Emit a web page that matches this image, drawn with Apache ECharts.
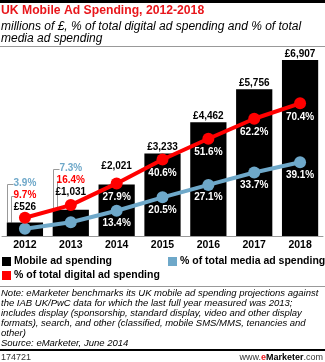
<!DOCTYPE html>
<html>
<head>
<meta charset="utf-8">
<script src="https://cdn.jsdelivr.net/npm/echarts@6/dist/echarts.min.js"></script>
<style>
html,body{margin:0;padding:0;background:#fff;}
#c{width:325px;height:362px;}
</style>
</head>
<body>
<div id="c"></div>
<script>
const years = ['2012', '2013', '2014', '2015', '2016', '2017', '2018'];
const mobileSpend = [526, 1031, 2021, 3233, 4462, 5756, 6907];
const pctDigital = [9.7, 16.4, 27.9, 40.6, 51.6, 62.2, 70.4];
const pctMedia = [3.9, 7.3, 13.4, 20.5, 27.1, 33.7, 39.1];
const seriesNames = ['Mobile ad spending', '% of total media ad spending', '% of total digital ad spending'];
const titleText = 'UK Mobile Ad Spending, 2012-2018';
const subtitleLines = ['millions of £, % of total digital ad spending and % of total', 'media ad spending'];
const noteLines = [
  'Note: eMarketer benchmarks its UK mobile ad spending projections against',
  'the IAB UK/PwC data for which the last full year measured was 2013;',
  'includes display (sponsorship, standard display, video and other display',
  'formats), search, and other (classified, mobile SMS/MMS, tenancies and',
  'other)',
  'Source: eMarketer, June 2014'
];
const chartId = '174721';

const FONT = '"Liberation Sans", Arial, sans-serif';
const RED = '#ff0000';
const BLUE = '#6ea8c9';
const money = v => '£' + v.toLocaleString('en-US');
const pct = v => v.toFixed(1) + '%';
const outsideIdx = [0, 1];
const labelDist = [9, 11, 13];

const chart = echarts.init(document.getElementById('c'), null, {renderer: 'canvas'});

const barData = mobileSpend.map((v, i) => i < labelDist.length ? {value: v, label: {distance: labelDist[i]}} : v);

const legendText = {fontWeight: 'bold', fontSize: 10.5, color: '#000', fontFamily: FONT, padding: [0, 0, 0, -2]};

const option = {
  animation: false,
  textStyle: {fontFamily: FONT},
  grid: {left: 2, right: 2, top: 52, bottom: 126, containLabel: false},
  xAxis: {
    type: 'category',
    data: years,
    axisLine: {lineStyle: {color: '#999', width: 1}},
    axisTick: {show: false},
    axisLabel: {color: '#000', fontWeight: 'bold', fontSize: 10.5, margin: 4, fontFamily: FONT}
  },
  yAxis: [
    {type: 'value', min: 0, max: 7220, show: false},
    {type: 'value', min: 0, max: 97.6, show: false}
  ],
  legend: [
    {data: [seriesNames[0]], left: 2, top: 256, padding: 0, itemWidth: 9, itemHeight: 9, icon: 'rect', textStyle: legendText},
    {data: [seriesNames[1]], left: 168, top: 256, padding: 0, itemWidth: 9, itemHeight: 9, icon: 'rect', textStyle: legendText},
    {data: [seriesNames[2]], left: 2, top: 270, padding: 0, itemWidth: 9, itemHeight: 9, icon: 'rect', textStyle: legendText}
  ],
  series: [
    {
      name: seriesNames[0],
      type: 'bar',
      data: barData,
      barCategoryGap: '21%',
      itemStyle: {color: '#000'},
      label: {
        show: true,
        position: 'top',
        distance: 1,
        color: '#000',
        fontWeight: 'bold',
        fontSize: 10,
        fontFamily: FONT,
        formatter: p => {
          const i = p.dataIndex;
          if (outsideIdx.includes(i)) {
            return '{b|' + pct(pctMedia[i]) + '}\n{r|' + pct(pctDigital[i]) + '}\n{k|' + money(mobileSpend[i]) + '}';
          }
          return money(mobileSpend[i]);
        },
        rich: {
          b: {color: BLUE, fontWeight: 'bold', fontSize: 10, lineHeight: 12, fontFamily: FONT},
          r: {color: RED, fontWeight: 'bold', fontSize: 10, lineHeight: 12, fontFamily: FONT},
          k: {color: '#000', fontWeight: 'bold', fontSize: 10, lineHeight: 12, fontFamily: FONT}
        }
      },
      z: 1
    },
    {
      name: seriesNames[1],
      type: 'line',
      yAxisIndex: 1,
      data: pctMedia,
      color: BLUE,
      lineStyle: {width: 4, color: BLUE},
      itemStyle: {color: BLUE},
      symbol: 'circle',
      symbolSize: 12,
      label: {
        show: true, position: 'bottom', distance: 1.5, color: '#fff', fontWeight: 'bold', fontSize: 10, fontFamily: FONT,
        formatter: p => outsideIdx.includes(p.dataIndex) ? '' : pct(p.value)
      },
      z: 3
    },
    {
      name: seriesNames[2],
      type: 'line',
      yAxisIndex: 1,
      data: pctDigital,
      color: RED,
      lineStyle: {width: 4, color: RED},
      itemStyle: {color: RED},
      symbol: 'circle',
      symbolSize: 12,
      label: {
        show: true, position: 'bottom', distance: 3, color: '#fff', fontWeight: 'bold', fontSize: 10, fontFamily: FONT,
        formatter: p => outsideIdx.includes(p.dataIndex) ? '' : pct(p.value)
      },
      z: 3
    }
  ],
  graphic: [
    {type: 'rect', left: 0, top: 0, shape: {width: 325, height: 3}, style: {fill: '#000'}},
    {type: 'text', left: 1, top: 5, style: {text: titleText, fill: '#e8161b', font: 'bold 12.2px ' + FONT}},
    {type: 'text', left: 1, top: 21, style: {text: subtitleLines.join('\n'), fill: '#000', font: 'italic 12px ' + FONT, lineHeight: 12}},
    {type: 'rect', left: 0, top: 46, shape: {width: 325, height: 1}, style: {fill: '#999'}},
    {type: 'rect', left: 0, top: 286, shape: {width: 325, height: 1}, style: {fill: '#999'}},
    {type: 'text', left: 1, top: 288, style: {text: noteLines.join('\n'), fill: '#000', font: 'italic 9.5px ' + FONT, lineHeight: 10}},
    {type: 'rect', left: 0, top: 349, shape: {width: 325, height: 2}, style: {fill: '#000'}},
    {type: 'text', left: 1, top: 353, style: {text: chartId, fill: '#333', font: '9px ' + FONT}},
    {type: 'text', right: 2, top: 353, style: {
      text: '{a|www.}{e|e}{m|Marketer}{a|.com}',
      rich: {
        a: {fill: '#333', font: '9px ' + FONT},
        e: {fill: '#e8161b', font: 'bold 9px ' + FONT},
        m: {fill: '#000', font: 'bold 9px ' + FONT}
      }
    }}
  ]
};
chart.setOption(option);

// callout brackets for the first two years, positioned from the axis scales
const extra = [];
const catW = chart.convertToPixel({xAxisIndex: 0}, years[1]) - chart.convertToPixel({xAxisIndex: 0}, years[0]);
const barW = catW * 0.79;
outsideIdx.forEach(i => {
  const cx = chart.convertToPixel({xAxisIndex: 0}, years[i]);
  const top = chart.convertToPixel({yAxisIndex: 0}, mobileSpend[i]);
  const left = Math.round(cx - barW / 2) + 0.5;
  const kY = top - labelDist[i] - 6;
  const rY = Math.round(kY - 12) + 0.5;
  const bY = Math.round(kY - 24) + 0.5;
  extra.push({type: 'polyline', silent: true, shape: {points: [[left + 6, bY], [left, bY], [left, top]]}, style: {stroke: '#999', lineWidth: 1, fill: null}});
  extra.push({type: 'polyline', silent: true, shape: {points: [[left + 7, rY], [left + 4, rY], [left + 4, top]]}, style: {stroke: '#999', lineWidth: 1, fill: null}});
});
chart.setOption({graphic: option.graphic.concat(extra)});
</script>
</body>
</html>
